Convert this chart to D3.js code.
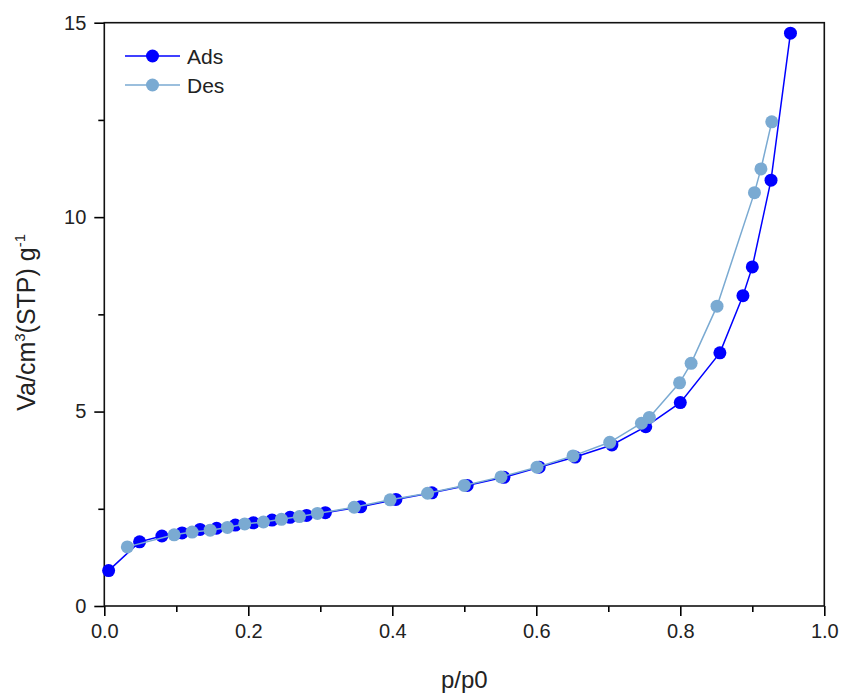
<!DOCTYPE html>
<html><head><meta charset="utf-8">
<script src="https://cdn.jsdelivr.net/npm/d3@7"></script>
<style>body{margin:0;background:#fff}</style>
</head><body><svg id="c" width="843" height="694"></svg>
<script>
const adsX = [0.006,0.049,0.080,0.108,0.133,0.156,0.182,0.207,0.233,0.258,0.281,0.307,0.356,0.405,0.455,0.504,0.555,0.604,0.654,0.705,0.752,0.800,0.855,0.887,0.900,0.926,0.953];
const adsY = [0.91,1.65,1.80,1.88,1.97,2.00,2.08,2.14,2.21,2.28,2.33,2.40,2.55,2.74,2.91,3.10,3.31,3.57,3.83,4.14,4.61,5.23,6.51,7.98,8.72,10.95,14.73];
const desX = [0.032,0.097,0.122,0.147,0.171,0.195,0.221,0.246,0.271,0.296,0.347,0.397,0.449,0.500,0.551,0.601,0.651,0.702,0.746,0.757,0.799,0.815,0.851,0.903,0.912,0.927];
const desY = [1.52,1.83,1.90,1.95,2.02,2.11,2.16,2.23,2.30,2.38,2.54,2.73,2.90,3.10,3.32,3.57,3.86,4.21,4.70,4.85,5.74,6.24,7.71,10.63,11.24,12.45];
const xTicks = [0,0.2,0.4,0.6,0.8,1.0];
const xMinor = [0.1,0.3,0.5,0.7,0.9];
const yTicks = [0,5,10,15];
const yMinor = [2.5,7.5,12.5];
const seriesNames = ["Ads","Des"];
const colors = ["#0000ff","#7aaad2"];

const L=104.3, R=824.3, T=22.7, B=606;
const svg = d3.select("#c");
const x = d3.scaleLinear().domain([0,1]).range([L,R]);
const y = d3.scaleLinear().domain([0,15]).range([B,T]);
const font = "'Liberation Sans', Arial, sans-serif";

const series = [
  {name:seriesNames[0], color:colors[0], pts:adsX.map((v,i)=>[v,adsY[i]])},
  {name:seriesNames[1], color:colors[1], pts:desX.map((v,i)=>[v,desY[i]])}
];
const line = d3.line().x(d=>x(d[0])).y(d=>y(d[1]));

// axes
const gx = svg.append("g").attr("transform",`translate(0,${B})`)
  .call(d3.axisBottom(x).tickValues(xTicks).tickFormat(d3.format(".1f")).tickSize(10).tickPadding(8));
const gxm = svg.append("g").attr("transform",`translate(0,${B})`)
  .call(d3.axisBottom(x).tickValues(xMinor).tickFormat("").tickSize(6));
const gy = svg.append("g").attr("transform",`translate(${L},0)`)
  .call(d3.axisLeft(y).tickValues(yTicks).tickFormat(d3.format("d")).tickSize(10).tickPadding(8));
const gym = svg.append("g").attr("transform",`translate(${L},0)`)
  .call(d3.axisLeft(y).tickValues(yMinor).tickFormat("").tickSize(6));
[gx,gxm,gy,gym].forEach(g=>{
  g.select(".domain").remove();
  g.selectAll(".tick line").attr("stroke","#000").attr("stroke-width",1.6);
  g.selectAll("text").attr("font-family",font).attr("font-size",20).attr("fill","#222");
});

// frame
svg.append("rect").attr("x",L).attr("y",T).attr("width",R-L).attr("height",B-T)
  .attr("fill","none").attr("stroke","#111").attr("stroke-width",1.6);

// series
series.forEach(s=>{
  svg.append("path").datum(s.pts).attr("d",line).attr("fill","none")
    .attr("stroke",s.color).attr("stroke-width",1.5);
  svg.append("g").selectAll("circle").data(s.pts).join("circle")
    .attr("cx",d=>x(d[0])).attr("cy",d=>y(d[1])).attr("r",6.5).attr("fill",s.color);
});

// titles
svg.append("text").attr("x",(L+R)/2).attr("y",688).attr("text-anchor","middle")
  .attr("font-family",font).attr("font-size",24).attr("fill","#222").text("p/p0");
const yt = svg.append("text").attr("transform",`translate(35,${(T+B)/2+8}) rotate(-90)`)
  .attr("text-anchor","middle").attr("font-family",font).attr("font-size",25).attr("fill","#222");
yt.append("tspan").text("Va/cm");
yt.append("tspan").attr("dy",-10).attr("font-size",15).text("3");
yt.append("tspan").attr("dy",10).text("(STP) g");
yt.append("tspan").attr("dy",-10).attr("font-size",15).text("-1");

// legend
series.forEach((s,i)=>{
  const ly = 56 + i*29;
  svg.append("line").attr("x1",125).attr("x2",180).attr("y1",ly).attr("y2",ly)
    .attr("stroke",s.color).attr("stroke-width",1.5);
  svg.append("circle").attr("cx",152.5).attr("cy",ly).attr("r",6.5).attr("fill",s.color);
  svg.append("text").attr("x",187).attr("y",ly+7.5).attr("font-family",font)
    .attr("font-size",21).attr("fill","#222").text(s.name);
});
</script></body></html>
